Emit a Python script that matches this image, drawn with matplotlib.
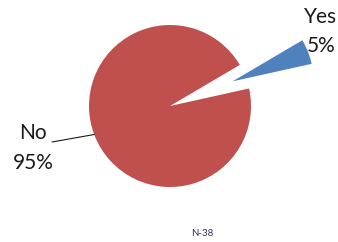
import numpy as np
import matplotlib.pyplot as plt

labels = ["Yes", "No"]
shares = [5, 95]
pct_text = ["5%", "95%"]
colors = ["#4F81BD", "#C0504D"]
note = "N-38"

W, H = 338, 242
cx, cy, r = 170, 106, 81   # pie centre / radius in pixels


def px(x, y):
    # pixel position -> data units (pie radius = 1)
    return (x - cx) / r, (cy - y) / r


fig = plt.figure(figsize=(W / 100, H / 100), dpi=100)
ax = fig.add_axes([0, 0, 1, 1])

ax.pie(shares, colors=colors, explode=[0.83, 0], startangle=12.5,
       counterclock=True, radius=1, center=(0, 0),
       wedgeprops=dict(linewidth=0), frame=True)
ax.set_xlim(-cx / r, (W - cx) / r)
ax.set_ylim(-(H - cy) / r, cy / r)
ax.axis("off")

font = "Lato"
txt = dict(ha="center", va="center", fontsize=15, family=font, color="#1a1a1a")
ax.text(*px(321, 17), labels[0], **txt)
ax.text(*px(321, 46), pct_text[0], **txt)
ax.text(*px(33, 133), labels[1], **txt)
ax.text(*px(33, 163), pct_text[1], **txt)

# leader line for "No" ending on the pie edge
ang = np.deg2rad(200.6)
ax.annotate("", xy=(np.cos(ang), np.sin(ang)), xytext=px(52, 142),
            arrowprops=dict(arrowstyle="-", color="#1a1a1a", lw=0.8,
                            shrinkA=0, shrinkB=0))

ax.text(*px(202, 233), note, ha="center", va="center", fontsize=7,
        family=font, color="#3a3050")

fig.savefig("out.png", dpi=100)
